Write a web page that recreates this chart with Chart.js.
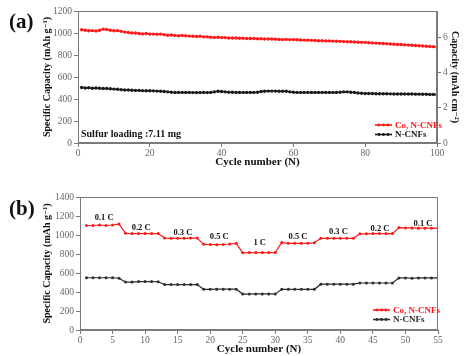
<!DOCTYPE html>
<html><head><meta charset="utf-8">
<script src="https://cdn.jsdelivr.net/npm/chart.js@4.4.1/dist/chart.umd.min.js"></script>
<style>
html,body{margin:0;padding:0;background:#fff;}
#wrap{position:relative;width:471px;height:356px;overflow:hidden;background:#fff;}
canvas{position:absolute;left:0;}
</style></head><body>
<div id="wrap">
<canvas id="ca" width="471" height="176" style="top:0px"></canvas>
<canvas id="cb" width="471" height="178" style="top:178px"></canvas>
</div>
<script>
// ---------- Panel (a): cycling at 7.11 mg sulfur loading ----------
const cyclesA = Array.from({length:100}, (_, i) => i + 1);
const coA = [1030,1025,1020,1022,1018,1025,1035,1032,1025,1020,
             1022,1015,1008,1005,1000,1000,995,992,995,990,
             990,988,990,985,980,982,978,975,978,975,
             972,970,968,970,965,965,962,960,962,958,
             958,955,955,955,952,952,950,950,950,948,
             948,946,945,945,944,942,940,942,940,940,
             938,937,935,935,933,932,930,930,928,928,
             926,925,924,922,920,920,918,916,915,915,
             912,910,908,906,905,903,900,898,896,895,
             892,890,888,886,884,882,880,878,876,874];
const nA = [505,500,502,498,500,498,495,496,493,490,
            488,485,482,482,480,478,478,476,475,475,
            474,472,470,468,465,462,460,460,460,460,
            460,458,458,458,460,458,460,465,470,468,
            465,462,462,460,460,460,460,460,460,462,
            468,470,472,472,472,470,470,470,465,462,
            460,460,460,460,460,460,460,460,460,460,
            460,460,462,465,465,462,460,455,452,450,
            450,450,448,448,448,448,447,446,446,445,
            445,445,445,444,444,443,443,442,442,440];
const ticksA_x = [0,20,40,60,80,100];
const ticksA_y = [0,200,400,600,800,1000,1200];
const ticksA_y2 = [0,2,4,6];

// ---------- Panel (b): rate capability ----------
const cyclesB = Array.from({length:55}, (_, i) => i + 1);
const coB = [1100,1100,1105,1100,1105,1115,
             1018,1015,1015,1015,1015,1015,
             968,965,965,965,968,968,
             902,900,898,900,905,912,
             812,815,815,815,815,815,
             922,912,912,912,912,918,
             965,965,965,965,965,965,
             1012,1012,1015,1015,1015,1015,
             1078,1075,1075,1072,1072,1072,1070];
const nB = [550,550,550,550,550,545,
            505,505,510,510,510,508,
            478,478,478,478,478,478,
            428,428,430,430,430,430,
            378,378,380,380,380,380,
            428,428,428,428,428,428,
            482,482,482,482,482,482,
            495,495,495,495,495,495,
            548,548,545,548,548,548,548];
const ticksB_x = [0,5,10,15,20,25,30,35,40,45,50,55];
const ticksB_y = [0,200,400,600,800,1000,1200,1400];
const rateText = ['0.1 C','0.2 C','0.3 C','0.5 C','1 C','0.5 C','0.3 C','0.2 C','0.1 C'];
const rateX = [3.7, 9.4, 15.8, 21.4, 27.6, 33.5, 39.7, 46.1, 52.7];
const rateY = [1176, 1077, 1028, 976, 913, 976, 1035, 1070, 1123];

const seriesNames = ['Co, N-CNFs', 'N-CNFs'];
const RED = '#ff1a1a', BLK = '#1a1a1a', BLK_B = '#2e2e2e';

const SERIF = '"Liberation Serif","DejaVu Serif",serif';
const AX = '#7a7a7a';

function pts(xs, ys){ return ys.map((v,i)=>({x:xs[i], y:v})); }
function fixTicks(list){ return function(s){ s.ticks = list.map(v=>({value:v})); }; }
const plain = v => String(v);

const boxPlugin = {
  id:'box',
  afterDatasetsDraw(chart){
    const {ctx, chartArea:a} = chart;
    ctx.save();
    ctx.strokeStyle = AX; ctx.lineWidth = 1;
    ctx.strokeRect(Math.round(a.left)+0.5, Math.round(a.top)+0.5,
                   Math.round(a.right-a.left)-1, Math.round(a.bottom-a.top)-1);
    ctx.restore();
  }
};

function legendPlugin(x, y0, dy){
  return {
    id:'lgd',
    afterDraw(chart){
      const ctx = chart.ctx;
      ctx.save();
      chart.data.datasets.forEach((ds,i)=>{
        const y = y0 + i*dy;
        ctx.strokeStyle = ds.borderColor; ctx.lineWidth = 1.6;
        ctx.beginPath(); ctx.moveTo(x, y); ctx.lineTo(x+17, y); ctx.stroke();
        ctx.fillStyle = ds.borderColor;
        [x+4, x+8.5, x+13].forEach(px=>{ ctx.beginPath(); ctx.arc(px, y, 1.4, 0, Math.PI*2); ctx.fill(); });
        ctx.font = 'bold 9px ' + SERIF;
        ctx.textBaseline = 'middle'; ctx.textAlign = 'left';
        ctx.fillStyle = ds.borderColor;
        ctx.fillText(ds.label, x+20, y+0.5);
      });
      ctx.restore();
    }
  };
}

function panelLabel(text, x, y){
  return {
    id:'plab',
    afterDraw(chart){
      const ctx = chart.ctx;
      ctx.save();
      ctx.font = 'bold 21px ' + SERIF;
      ctx.fillStyle = '#111'; ctx.textBaseline = 'middle'; ctx.textAlign = 'left';
      ctx.fillText(text, x, y);
      ctx.restore();
    }
  };
}

const sulfurPlugin = {
  id:'sulfur',
  afterDraw(chart){
    const {ctx, chartArea:a} = chart;
    ctx.save();
    ctx.font = 'bold 10px ' + SERIF;
    ctx.fillStyle = '#111'; ctx.textBaseline = 'middle'; ctx.textAlign = 'left';
    ctx.fillText('Sulfur loading :7.11 mg', a.left + 3, a.bottom - 9);
    ctx.restore();
  }
};

const ratePlugin = {
  id:'rate',
  afterDatasetsDraw(chart){
    const {ctx, scales} = chart;
    ctx.save();
    ctx.font = 'bold 8.5px ' + SERIF;
    ctx.fillStyle = '#111'; ctx.textBaseline = 'middle'; ctx.textAlign = 'center';
    rateText.forEach((t,i)=>{
      ctx.fillText(t, scales.x.getPixelForValue(rateX[i]), scales.y.getPixelForValue(rateY[i]));
    });
    ctx.restore();
  }
};

function gridOpts(){ return {drawOnChartArea:false, drawTicks:true, tickLength:4, color:AX}; }
function tickFont(){ return {family:SERIF, size:9.5}; }
function titleFont(sz){ return {family:SERIF, size:sz, weight:'bold'}; }

// ---------- Chart (a) ----------
new Chart(document.getElementById('ca'), {
  type:'line',
  data:{ datasets:[
    {label:seriesNames[0], data:pts(cyclesA, coA), borderColor:RED, backgroundColor:RED,
     borderWidth:1.5, pointRadius:1.7, pointBorderWidth:0, pointStyle:'circle', yAxisID:'y'},
    {label:seriesNames[1], data:pts(cyclesA, nA), borderColor:BLK, backgroundColor:BLK,
     borderWidth:1.5, pointRadius:1.7, pointBorderWidth:0, pointStyle:'circle', yAxisID:'y'}
  ]},
  options:{
    responsive:false, animation:false,
    layout:{padding:{left:41, right:10, top:11, bottom:7}},
    plugins:{legend:{display:false}, tooltip:{enabled:false}},
    scales:{
      x:{type:'linear', min:0, max:100, afterBuildTicks:fixTicks(ticksA_x),
         ticks:{font:tickFont(), color:'#666', padding:1, maxRotation:0, callback:plain},
         grid:gridOpts(), border:{color:AX},
         title:{display:true, text:'Cycle number (N)', font:titleFont(11), color:'#111', padding:{top:0,bottom:0}},
         afterFit(s){ s.height = 26; }},
      y:{type:'linear', min:0, max:1200, afterBuildTicks:fixTicks(ticksA_y),
         ticks:{font:tickFont(), color:'#666', padding:2, callback:plain},
         grid:gridOpts(), border:{color:AX},
         title:{display:true, text:'Specific Capacity (mAh g\u207B\u00B9)', font:titleFont(10), color:'#111', padding:0},
         afterFit(s){ s.width = 37; }},
      y2:{type:'linear', position:'right', min:0, max:7.5, afterBuildTicks:fixTicks(ticksA_y2),
         ticks:{font:tickFont(), color:'#666', padding:2, callback:plain},
         grid:gridOpts(), border:{color:AX},
         title:{display:true, text:'Capacity (mAh cm\u207B\u00B2)', font:titleFont(10), color:'#111', padding:0},
         afterFit(s){ s.width = 24; }}
    }
  },
  plugins:[boxPlugin, legendPlugin(375, 125, 9.5), panelLabel('(a)', 9, 23), sulfurPlugin]
});

// ---------- Chart (b) ----------
new Chart(document.getElementById('cb'), {
  type:'line',
  data:{ datasets:[
    {label:seriesNames[0], data:pts(cyclesB, coB), borderColor:RED, backgroundColor:RED,
     borderWidth:1.2, pointRadius:1.5, pointBorderWidth:0, pointStyle:'circle'},
    {label:seriesNames[1], data:pts(cyclesB, nB), borderColor:BLK_B, backgroundColor:BLK_B,
     borderWidth:1.2, pointRadius:1.5, pointBorderWidth:0, pointStyle:'circle'}
  ]},
  options:{
    responsive:false, animation:false,
    layout:{padding:{left:41, right:33, top:19, bottom:0}},
    plugins:{legend:{display:false}, tooltip:{enabled:false}},
    scales:{
      x:{type:'linear', min:0, max:55, afterBuildTicks:fixTicks(ticksB_x),
         ticks:{font:tickFont(), color:'#666', padding:1, maxRotation:0, callback:plain},
         grid:gridOpts(), border:{color:AX},
         title:{display:true, text:'Cycle number (N)', font:titleFont(11), color:'#111', padding:{top:0,bottom:0}},
         afterFit(s){ s.height = 26; }},
      y:{type:'linear', min:0, max:1400, afterBuildTicks:fixTicks(ticksB_y),
         ticks:{font:tickFont(), color:'#666', padding:2, callback:plain},
         grid:gridOpts(), border:{color:AX},
         title:{display:true, text:'Specific Capacity (mAh g\u207B\u00B9)', font:titleFont(10), color:'#111', padding:0},
         afterFit(s){ s.width = 39; }}
    }
  },
  plugins:[boxPlugin, legendPlugin(373, 132, 9.5), panelLabel('(b)', 9, 32), ratePlugin]
});
</script>
</body></html>
